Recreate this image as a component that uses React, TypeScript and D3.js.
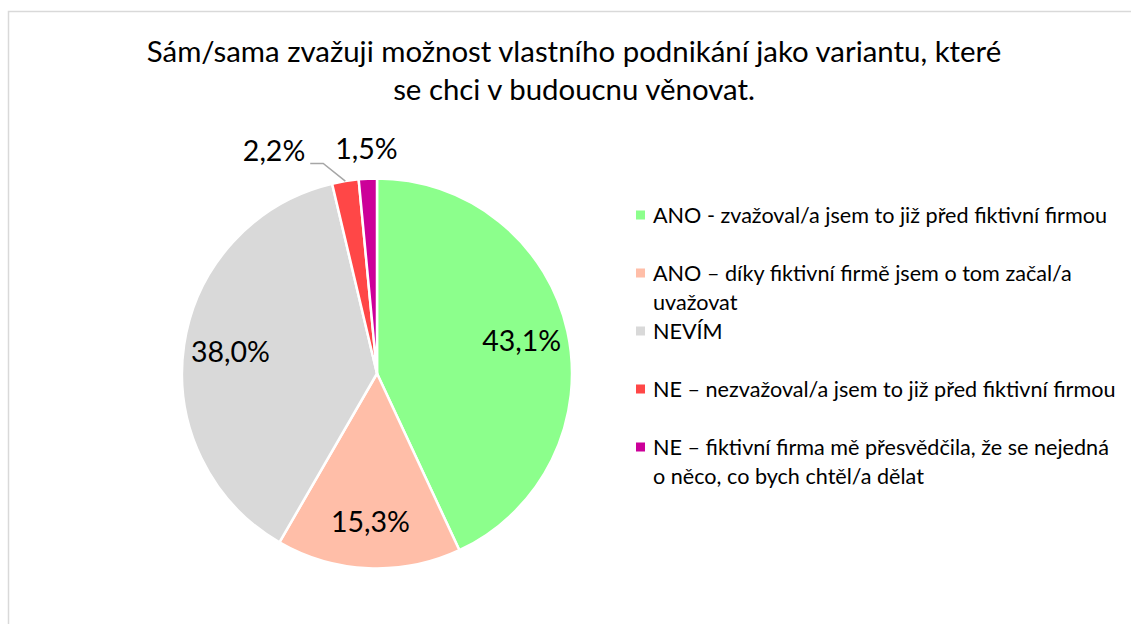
import React from "react";
import * as d3 from "d3";

// data
const categories = [
  "ANO - zvažoval/a jsem to již před fiktivní firmou",
  "ANO – díky fiktivní firmě jsem o tom začal/a\nuvažovat",
  "NEVÍM",
  "NE – nezvažoval/a jsem to již před fiktivní firmou",
  "NE – fiktivní firma mě přesvědčila, že se nejedná\no něco, co bych chtěl/a dělat",
];
const shares = [43.1, 15.3, 38.0, 2.2, 1.5];
const colors = ["#8CFF8C", "#FFBEA8", "#D9D9D9", "#FF4747", "#CC0099"];
const titleLines = [
  "Sám/sama zvažuji možnost vlastního podnikání jako variantu, které",
  "se chci v budoucnu věnovat.",
];

const W = 1131;
const H = 624;
const FONT = "Lato, 'Open Sans', sans-serif";

const fmt = (v: number) => v.toFixed(1).replace(".", ",") + "%";

let ctx: CanvasRenderingContext2D | null = null;
function textWidth(s: string, size: number) {
  if (!ctx) ctx = document.createElement("canvas").getContext("2d");
  if (!ctx) return s.length * size * 0.5;
  ctx.font = `${size}px Lato`;
  return ctx.measureText(s).width;
}

export default function App() {
  const cx = 377;
  const cy = 373.5;
  const R = 195;
  const labelSize = 28.5;

  const pie = d3
    .pie<number>()
    .sort(null)
    .value((d) => d)
    .startAngle(0)
    .endAngle(2 * Math.PI);
  const arcs = pie(shares);
  const arc = d3.arc<d3.PieArcDatum<number>>().innerRadius(0).outerRadius(R);
  const labelArc = d3
    .arc<d3.PieArcDatum<number>>()
    .innerRadius(R * 0.76)
    .outerRadius(R * 0.76);

  // small slices get their labels outside, pushed left if they collide
  const outside: { i: number; x: number; y: number; w: number; leader: boolean }[] = [];
  let prevLeft = Infinity;
  for (let i = arcs.length - 1; i >= 0; i--) {
    const a = arcs[i];
    if (a.value >= 5) continue;
    const mid = (a.startAngle + a.endAngle) / 2;
    const rr = R + 30;
    let x = Math.sin(mid) * rr;
    const y = -Math.cos(mid) * rr;
    const w = textWidth(fmt(a.value), labelSize);
    let leader = false;
    if (x + w / 2 > prevLeft - 8) {
      x = prevLeft - 30 - w / 2;
      leader = true;
    }
    prevLeft = x - w / 2;
    outside.push({ i, x, y, w, leader });
  }

  const legendX = 636;
  const legendY = 215;
  const legendStep = 58;
  const legendLine = 29;
  const legendSize = 21.6;

  return (
    <svg
      width={W}
      height={H}
      style={{ position: "absolute", left: 0, top: 0, background: "#fff" }}
      fontFamily={FONT}
    >
      <rect x={8.5} y={11.5} width={W + 10} height={H + 10} fill="#fff" stroke="#D9D9D9" strokeWidth={1.5} />

      {titleLines.map((t, i) => (
        <text key={i} x={574} y={62 + i * 38} textAnchor="middle" fontSize={29.4} fill="#000">
          {t}
        </text>
      ))}

      <g transform={`translate(${cx},${cy})`}>
        {arcs.map((a, i) => (
          <path key={i} d={arc(a) ?? ""} fill={colors[i]} stroke="#fff" strokeWidth={2.5} strokeLinejoin="round" />
        ))}
        {arcs.map((a, i) => {
          if (a.value < 5) return null;
          const [x, y] = labelArc.centroid(a);
          return (
            <text key={i} x={x} y={y} dy="0.35em" textAnchor="middle" fontSize={labelSize} fill="#000">
              {fmt(a.value)}
            </text>
          );
        })}
        {outside.map((o) => {
          const a = arcs[o.i];
          const mid = (a.startAngle + a.endAngle) / 2;
          const ex = Math.sin(mid) * R;
          const ey = -Math.cos(mid) * R;
          const lx = o.x + o.w / 2 + 5;
          const ly = o.y + 12;
          return (
            <g key={o.i}>
              {o.leader && (
                <polyline
                  points={`${lx},${ly} ${lx + 13},${ly} ${ex},${ey}`}
                  fill="none"
                  stroke="#A6A6A6"
                  strokeWidth={1.5}
                />
              )}
              <text x={o.x} y={o.y} dy="0.35em" textAnchor="middle" fontSize={labelSize} fill="#000">
                {fmt(a.value)}
              </text>
            </g>
          );
        })}
      </g>

      {categories.map((c, i) => {
        const y = legendY + i * legendStep;
        return (
          <g key={i}>
            <rect x={legendX} y={y - 4.5} width={9} height={9} fill={colors[i]} />
            {c.split("\n").map((line, j) => (
              <text key={j} x={legendX + 17} y={y + j * legendLine} dy="0.35em" fontSize={legendSize} fill="#000">
                {line}
              </text>
            ))}
          </g>
        );
      })}
    </svg>
  );
}
